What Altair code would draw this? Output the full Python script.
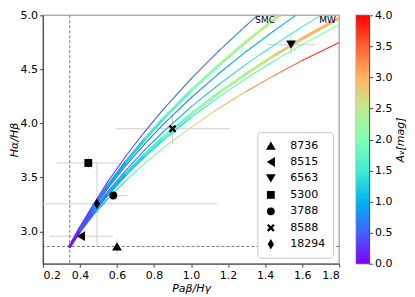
import altair as alt
import pandas as pd

# ---------------- data ----------------
# intrinsic ratios (dashed guide lines)
intr_x = [0.345]
intr_y = [2.86]

# model curves: Pa_beta/H_gamma (x), H_alpha/H_beta (y), A_v along the curve
c1_x = [0.345, 0.40, 0.47, 0.55, 0.65, 0.75, 0.85, 1.00, 1.15, 1.30, 1.359]
c1_y = [2.86, 3.038, 3.244, 3.459, 3.702, 3.924, 4.130, 4.412, 4.671, 4.910, 5.00]
c1_a = [0.0, 0.075, 0.158, 0.238, 0.323, 0.396, 0.460, 0.543, 0.614, 0.677, 0.70]

c2_x = [0.345, 0.40, 0.47, 0.55, 0.65, 0.75, 0.85, 1.00, 1.15, 1.30, 1.45, 1.479]
c2_y = [2.86, 3.027, 3.220, 3.421, 3.647, 3.853, 4.043, 4.303, 4.540, 4.759, 4.962, 5.00]
c2_a = [0.0, 0.264, 0.552, 0.833, 1.131, 1.387, 1.610, 1.900, 2.150, 2.369, 2.600, 2.66]

c3_x = [0.345, 0.40, 0.47, 0.55, 0.65, 0.75, 0.85, 1.00, 1.15, 1.30, 1.45, 1.566]
c3_y = [2.86, 3.020, 3.206, 3.398, 3.614, 3.810, 3.990, 4.237, 4.461, 4.668, 4.860, 5.00]
c3_a = [0.0, 0.108, 0.225, 0.339, 0.461, 0.565, 0.656, 0.774, 0.876, 0.965, 1.044, 1.10]

c4_x = [0.345, 0.40, 0.47, 0.55, 0.65, 0.75, 0.85, 1.00, 1.15, 1.30, 1.45, 1.60, 1.701]
c4_y = [2.86, 3.012, 3.187, 3.367, 3.570, 3.754, 3.922, 4.152, 4.360, 4.551, 4.728, 4.895, 5.00]
c4_a = [0.0, 0.158, 0.330, 0.497, 0.675, 0.828, 0.961, 1.135, 1.284, 1.414, 1.531, 1.636, 1.70]

c5_x = [0.345, 0.40, 0.47, 0.55, 0.65, 0.75, 0.85, 1.00, 1.15, 1.30, 1.45, 1.60, 1.80]
c5_y = [2.86, 3.005, 3.172, 3.344, 3.537, 3.711, 3.870, 4.086, 4.282, 4.462, 4.628, 4.784, 4.976]
c5_a = [0.0, 0.277, 0.580, 0.875, 1.188, 1.457, 1.692, 1.997, 2.259, 2.489, 2.694, 2.878, 3.10]

c6_x = [0.345, 0.40, 0.47, 0.55, 0.65, 0.75, 0.85, 1.00, 1.15, 1.30, 1.45, 1.60, 1.80]
c6_y = [2.86, 3.002, 3.165, 3.332, 3.520, 3.689, 3.844, 4.054, 4.245, 4.419, 4.580, 4.730, 4.916]
c6_a = [0.0, 0.193, 0.403, 0.607, 0.825, 1.011, 1.174, 1.386, 1.568, 1.727, 1.869, 1.998, 2.15]

c7_x = [0.345, 0.40, 0.47, 0.55, 0.65, 0.75, 0.85, 1.00, 1.15, 1.30, 1.45, 1.60, 1.80]
c7_y = [2.86, 2.993, 3.145, 3.300, 3.474, 3.630, 3.772, 3.965, 4.139, 4.298, 4.444, 4.581, 4.749]
c7_a = [0.0, 0.349, 0.730, 1.101, 1.495, 1.833, 2.129, 2.512, 2.842, 3.132, 3.389, 3.622, 3.90]

curve_thick = [False, True, False, False, True, False, False]

# curve labels
lab_text = ["SMC", "MW"]
lab_x = [1.40, 1.737]
lab_y = [4.955, 4.955]

# observed objects
obj_name = ["8736", "8515", "6563", "5300", "3788", "8588", "18294"]
obj_x = [0.600, 0.405, 1.540, 0.445, 0.580, 0.900, 0.492]
obj_y = [2.860, 2.955, 4.728, 3.633, 3.332, 3.950, 3.255]
obj_xerr = [0.0, 0.170, 0.130, 0.170, 0.072, 0.309, 0.652]
obj_yerr = [0.07, 0.0, 0.085, 0.055, 0.0, 0.143, 0.390]

# axis ticks
x_ticks = [0.2, 0.4, 0.6, 0.8, 1.0, 1.2, 1.4, 1.6, 1.8]
y_ticks = [3.0, 3.5, 4.0, 4.5, 5.0]
cb_ticks = [0.0, 0.5, 1.0, 1.5, 2.0, 2.5, 3.0, 3.5, 4.0]

# matplotlib "rainbow" colours at the colour-bar ticks
rainbow = ["#8000ff", "#4062fa", "#00b4ec", "#40ecd4", "#80ffb4",
           "#bfec8e", "#ffb462", "#ff6232", "#ff0000"]

# ---------------- tables ----------------
curves = [(c1_x, c1_y, c1_a), (c2_x, c2_y, c2_a), (c3_x, c3_y, c3_a),
          (c4_x, c4_y, c4_a), (c5_x, c5_y, c5_a), (c6_x, c6_y, c6_a),
          (c7_x, c7_y, c7_a)]
seg_rows = []
for ci, (cx, cy, ca) in enumerate(curves):
    for i in range(len(cx) - 1):
        seg_rows.append({
            "x": cx[i], "y": cy[i], "x2": cx[i + 1], "y2": cy[i + 1],
            "av": (ca[i] + ca[i + 1]) / 2,
            "w": 3.0 if curve_thick[ci] else 1.1,
            "order": (1 if curve_thick[ci] else 0),
        })
seg_df = pd.DataFrame(seg_rows)
thin_df = seg_df[seg_df["order"] == 0]
thick_df = seg_df[seg_df["order"] == 1]

obj_df = pd.DataFrame({
    "name": obj_name, "x": obj_x, "y": obj_y,
    "xlo": [a - b for a, b in zip(obj_x, obj_xerr)],
    "xhi": [a + b for a, b in zip(obj_x, obj_xerr)],
    "ylo": [a - b for a, b in zip(obj_y, obj_yerr)],
    "yhi": [a + b for a, b in zip(obj_y, obj_yerr)],
})
xerr_df = obj_df[[e > 0 for e in obj_xerr]]
yerr_df = obj_df[[e > 0 for e in obj_yerr]]

lab_df = pd.DataFrame({"t": lab_text, "x": lab_x, "y": lab_y})

# ---------------- scales / axes ----------------
xs = alt.Scale(domain=[0.2, 1.8], nice=False, zero=False)
ys = alt.Scale(domain=[2.7, 5.0], nice=False, zero=False)
xax = alt.Axis(values=x_ticks, format=".1f", title="Paβ/Hγ", titleFontStyle="italic",
               titleFontWeight="normal", titlePadding=2)
yax = alt.Axis(values=y_ticks, format=".1f", title="Hα/Hβ", titleFontStyle="italic",
               titleFontWeight="normal", titlePadding=0)
cscale = alt.Scale(domain=cb_ticks, range=rainbow, interpolate="rgb")

X = lambda f: alt.X(f"{f}:Q", scale=xs, axis=xax)
Y = lambda f: alt.Y(f"{f}:Q", scale=ys, axis=yax)

err_h = alt.Chart(xerr_df).mark_rule(color="#cfcfcf", strokeWidth=1, clip=True).encode(
    x=X("xlo"), x2="xhi", y=Y("y"))
err_v = alt.Chart(yerr_df).mark_rule(color="#cfcfcf", strokeWidth=1, clip=True).encode(
    x=X("x"), y=Y("ylo"), y2="yhi")

vline = alt.Chart(pd.DataFrame({"x": intr_x})).mark_rule(
    color="#555555", strokeDash=[3, 2], strokeWidth=0.8).encode(x=X("x"))
hline = alt.Chart(pd.DataFrame({"y": intr_y})).mark_rule(
    color="#555555", strokeDash=[3, 2], strokeWidth=0.8).encode(y=Y("y"))

def seg_layer(df):
    return alt.Chart(df).mark_rule(strokeCap="round", clip=True).encode(
        x=X("x"), y=Y("y"), x2="x2", y2="y2",
        color=alt.Color("av:Q", scale=cscale, legend=None),
        strokeWidth=alt.StrokeWidth("w:Q", scale=None, legend=None),
    )

thin = seg_layer(thin_df)
thick = seg_layer(thick_df)

tri_up = "M0,-1.05L1.25,1.05L-1.25,1.05Z"
tri_left = "M-1.05,0L1.05,-1.25L1.05,1.25Z"
tri_down = "M0,1.05L1.25,-1.05L-1.25,-1.05Z"
x_path = ("M0,-0.42L0.58,-1L1,-0.58L0.42,0L1,0.58L0.58,1L0,0.42L-0.58,1L-1,0.58"
          "L-0.42,0L-1,-0.58L-0.58,-1Z")
d_path = "M0,-1.35L0.8,0L0,1.35L-0.8,0Z"
shapes = [tri_up, tri_left, tri_down, "square", "circle", x_path, d_path]

points = alt.Chart(obj_df).mark_point(filled=True, color="black", opacity=1, size=62).encode(
    x=X("x"), y=Y("y"),
    shape=alt.Shape("name:N", scale=alt.Scale(domain=obj_name, range=shapes),
                    legend=alt.Legend(title=None, orient="bottom-right", offset=6,
                                      padding=8, strokeColor="#c8c8c8", fillColor="white",
                                      cornerRadius=3, labelFontSize=11, labelOffset=14,
                                      symbolSize=62, symbolFillColor="black",
                                      symbolStrokeColor="black", symbolStrokeWidth=0,
                                      rowPadding=4.5, labelColor="black")),
)

labels = alt.Chart(lab_df).mark_text(fontSize=9, color="black").encode(
    x=X("x"), y=Y("y"), text="t:N")

main = alt.layer(err_h, err_v, vline, hline, thin, thick, points, labels).properties(
    width=297, height=249)

grad = {"gradient": "linear", "x1": 0, "y1": 1, "x2": 0, "y2": 0,
        "stops": [{"offset": i / (len(rainbow) - 1), "color": c} for i, c in enumerate(rainbow)]}
cbar = alt.Chart(pd.DataFrame({"lo": [cb_ticks[0]], "hi": [cb_ticks[-1]]})).mark_rect(
    fill=grad).encode(
    y=alt.Y("lo:Q", scale=alt.Scale(domain=[0, 4], nice=False),
            axis=alt.Axis(orient="right", values=cb_ticks, format=".1f", title="Aᵥ[mag]",
                          titleFontStyle="italic", titleFontWeight="normal",
                          titleAngle=270, titleBaseline="top", titlePadding=3)),
    y2="hi",
).properties(width=13, height=249)

chart = alt.hconcat(main, cbar, spacing=14).resolve_scale(
    y="independent", color="independent", shape="independent").resolve_legend(
    shape="independent").properties(padding=0).configure(
    font="DejaVu Sans").configure_view(stroke="#b0b0b0", strokeWidth=1.5).configure_axis(
    grid=False, domainColor="#444444", tickColor="#444444", labelColor="black",
    titleColor="black", tickSize=3.5, labelFontSize=11, titleFontSize=11,
    labelPadding=2)

chart.save("out.html", embed_options={"renderer": "svg", "actions": False})
